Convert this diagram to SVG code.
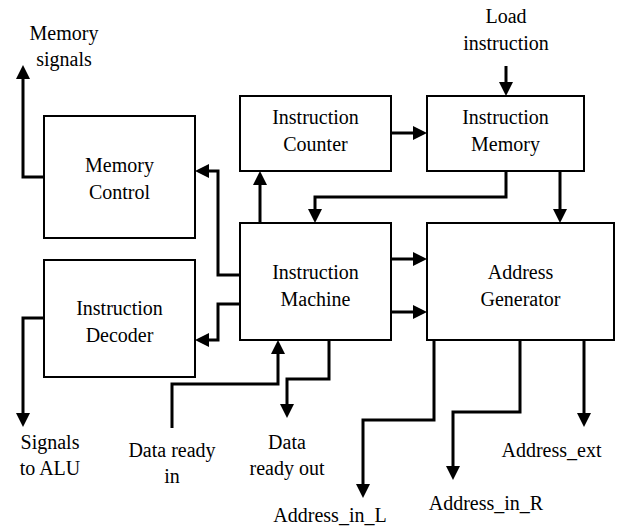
<svg xmlns="http://www.w3.org/2000/svg" width="617" height="527" viewBox="0 0 617 527">
<defs>
<marker id="ah" markerUnits="userSpaceOnUse" markerWidth="14" markerHeight="14" refX="1" refY="7" orient="auto">
<path d="M0,0 L14,7 L0,14 z" fill="#000"/>
</marker>
</defs>
<rect width="617" height="527" fill="#fff"/>
<g id="connectors" fill="none" stroke="#000" stroke-width="3" marker-end="url(#ah)">
<path d="M44,177 H23 V78" marker-end="url(#ah)"/>
<path d="M240,275 H218 V171 H208" marker-end="url(#ah)"/>
<path d="M260,223 V184" marker-end="url(#ah)"/>
<path d="M391,133 H414" marker-end="url(#ah)"/>
<path d="M506,66 V83" marker-end="url(#ah)"/>
<path d="M506,171 V197 H315 V210" marker-end="url(#ah)"/>
<path d="M560,171 V210" marker-end="url(#ah)"/>
<path d="M391,259 H414" marker-end="url(#ah)"/>
<path d="M391,312 H414" marker-end="url(#ah)"/>
<path d="M240,304 H218 V340 H208" marker-end="url(#ah)"/>
<path d="M44,318 H23 V414" marker-end="url(#ah)"/>
<path d="M172,428 V384 H278 V353" marker-end="url(#ah)"/>
<path d="M329,340 V379 H287 V405" marker-end="url(#ah)"/>
<path d="M434,340 V420 H363 V485" marker-end="url(#ah)"/>
<path d="M520,340 V412 H453 V467" marker-end="url(#ah)"/>
<path d="M584,340 V414" marker-end="url(#ah)"/>
</g>
<g id="memory-control"><rect x="44" y="116" width="151" height="122" fill="#fff" stroke="#000" stroke-width="2"/><text x="119.5" y="172" font-family="Liberation Serif" font-size="20" text-anchor="middle">Memory</text><text x="119.5" y="199" font-family="Liberation Serif" font-size="20" text-anchor="middle">Control</text></g>
<g id="instruction-decoder"><rect x="44" y="260" width="151" height="117" fill="#fff" stroke="#000" stroke-width="2"/><text x="119.5" y="315" font-family="Liberation Serif" font-size="20" text-anchor="middle">Instruction</text><text x="119.5" y="342" font-family="Liberation Serif" font-size="20" text-anchor="middle">Decoder</text></g>
<g id="instruction-counter"><rect x="240" y="96" width="151" height="75" fill="#fff" stroke="#000" stroke-width="2"/><text x="315.5" y="124" font-family="Liberation Serif" font-size="20" text-anchor="middle">Instruction</text><text x="315.5" y="151" font-family="Liberation Serif" font-size="20" text-anchor="middle">Counter</text></g>
<g id="instruction-memory"><rect x="427" y="96" width="157" height="75" fill="#fff" stroke="#000" stroke-width="2"/><text x="505.5" y="124" font-family="Liberation Serif" font-size="20" text-anchor="middle">Instruction</text><text x="505.5" y="151" font-family="Liberation Serif" font-size="20" text-anchor="middle">Memory</text></g>
<g id="instruction-machine"><rect x="240" y="223" width="151" height="117" fill="#fff" stroke="#000" stroke-width="2"/><text x="315.5" y="279" font-family="Liberation Serif" font-size="20" text-anchor="middle">Instruction</text><text x="315.5" y="306" font-family="Liberation Serif" font-size="20" text-anchor="middle">Machine</text></g>
<g id="address-generator"><rect x="427" y="223" width="187" height="117" fill="#fff" stroke="#000" stroke-width="2"/><text x="520.5" y="279" font-family="Liberation Serif" font-size="20" text-anchor="middle">Address</text><text x="520.5" y="306" font-family="Liberation Serif" font-size="20" text-anchor="middle">Generator</text></g>
<g id="labels">
<text x="64" y="40" font-family="Liberation Serif" font-size="20" text-anchor="middle">Memory</text><text x="64" y="66" font-family="Liberation Serif" font-size="20" text-anchor="middle">signals</text>
<text x="506" y="23" font-family="Liberation Serif" font-size="20" text-anchor="middle">Load</text><text x="506" y="50" font-family="Liberation Serif" font-size="20" text-anchor="middle">instruction</text>
<text x="50" y="449" font-family="Liberation Serif" font-size="20" text-anchor="middle">Signals</text><text x="50" y="475" font-family="Liberation Serif" font-size="20" text-anchor="middle">to ALU</text>
<text x="172" y="457" font-family="Liberation Serif" font-size="20" text-anchor="middle">Data ready</text><text x="172" y="483" font-family="Liberation Serif" font-size="20" text-anchor="middle">in</text>
<text x="287" y="449" font-family="Liberation Serif" font-size="20" text-anchor="middle">Data</text><text x="287" y="475" font-family="Liberation Serif" font-size="20" text-anchor="middle">ready out</text>
<text x="330" y="522" font-family="Liberation Serif" font-size="20" text-anchor="middle">Address_in_L</text>
<text x="486" y="510" font-family="Liberation Serif" font-size="20" text-anchor="middle">Address_in_R</text>
<text x="551.5" y="457" font-family="Liberation Serif" font-size="20" text-anchor="middle">Address_ext</text>
</g>
</svg>
